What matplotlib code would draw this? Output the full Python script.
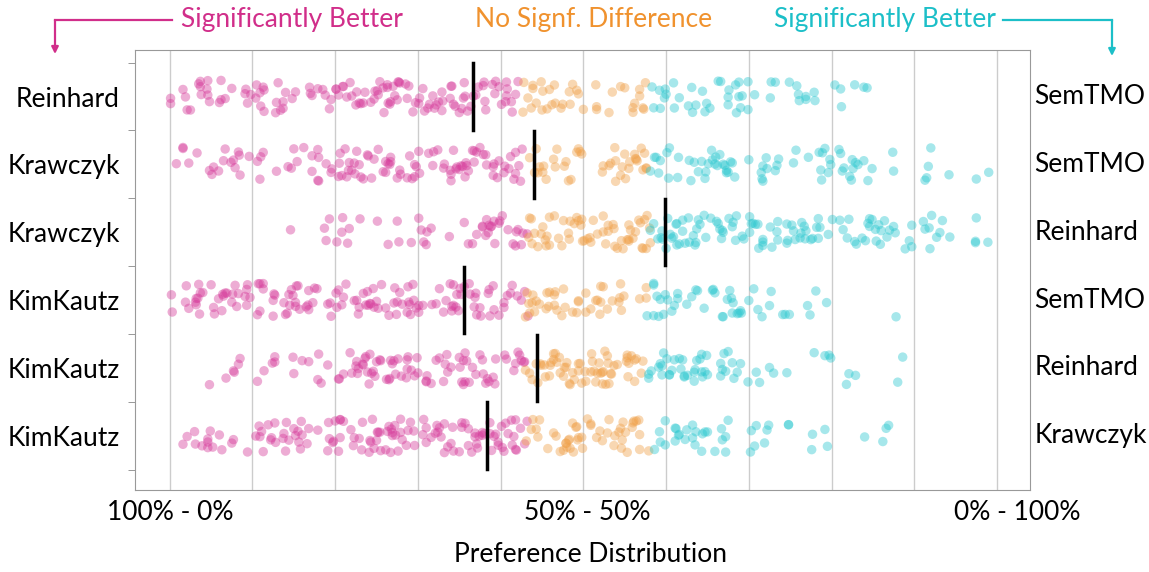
import matplotlib.pyplot as plt
import matplotlib.transforms as mtransforms
from matplotlib.lines import Line2D
import numpy as np
import pandas as pd
import seaborn as sns

left_names = ['Reinhard', 'Krawczyk', 'Krawczyk', 'KimKautz', 'KimKautz', 'KimKautz']
right_names = ['SemTMO', 'SemTMO', 'Reinhard', 'SemTMO', 'Reinhard', 'Krawczyk']
medians = [36.6, 44.0, 59.9, 35.6, 44.4, 38.3]

# preference values (%) per row, split in the three significance groups
r0_left = [0.1, 0.1, 1.6, 1.9, 2.1, 2.5, 3.5, 3.7, 3.7, 3.8, 4.6, 4.6, 4.8, 4.5, 6.0, 6.2, 6.2, 6.7, 7.5, 9.1, 9.2, 9.4, 9.8,
           10.5, 10.4, 11.0, 11.4, 11.3, 10.9, 11.4, 12.8, 12.9, 13.4, 13.7, 14.0, 13.1, 13.7, 14.8, 15.2, 16.9, 17.0, 17.2,
           17.9, 18.5, 18.8, 19.3, 19.5, 20.1, 20.1, 20.4, 20.9, 21.0, 21.4, 21.8, 22.0, 22.6, 23.1, 22.5, 22.9, 23.4, 23.6,
           24.3, 24.8, 24.7, 25.1, 25.2, 25.4, 25.8, 25.9, 26.3, 26.4, 26.7, 26.6, 27.2, 27.5, 27.6, 27.7, 27.0, 26.3, 27.8,
           28.5, 28.7, 28.9, 29.4, 29.7, 30.2, 30.1, 30.6, 30.8, 31.2, 31.4, 31.8, 32.0, 32.2, 32.5, 32.9, 33.0, 32.9, 33.9,
           34.0, 34.1, 34.3, 34.5, 35.0, 35.3, 35.5, 35.6, 35.7, 36.0, 36.4, 36.7, 37.0, 37.3, 37.9, 38.0, 38.2, 38.1, 39.0,
           39.3, 39.4, 39.8, 40.1, 40.6, 40.7, 40.8, 41.3, 41.4, 41.8, 40.7, 42.1]
r0_mid = [42.8, 42.7, 43.3, 43.7, 43.9, 43.9, 44.3, 45.0, 45.1, 44.9, 45.6, 45.9, 46.2, 46.5, 46.6, 47.3, 47.5, 48.3, 48.4,
          48.7, 49.2, 49.4, 50.0, 51.5, 51.6, 51.6, 53.1, 53.5, 54.5, 55.0, 56.0, 56.0, 56.2, 56.8, 56.8, 57.2, 57.3, 57.5]
r0_right = [58.3, 58.5, 59.3, 59.2, 59.9, 60.0, 59.8, 60.9, 61.0, 61.6, 62.7, 63.1, 63.2, 63.6, 64.4, 64.7, 64.9, 65.3, 66.3,
            66.6, 67.5, 67.6, 67.5, 68.4, 68.5, 68.8, 69.0, 68.8, 69.2, 69.9, 69.9, 70.7, 72.7, 73.2, 72.6, 74.9, 75.8, 76.0,
            76.9, 76.9, 76.1, 77.9, 78.0, 80.4, 81.1, 81.2, 82.8, 83.9, 84.3]

r1_left = [0.8, 1.6, 1.6, 2.3, 3.3, 4.8, 5.1, 5.3, 5.9, 6.5, 6.7, 7.4, 7.7, 7.9, 8.3, 8.4, 8.5, 9.6, 10.6, 10.9, 11.0, 11.3,
           12.9, 14.3, 14.7, 15.0, 15.4, 16.2, 17.2, 17.2, 17.9, 18.0, 18.0, 17.9, 18.9, 19.5, 19.6, 20.5, 20.4, 20.6, 20.8,
           21.2, 21.4, 21.6, 21.7, 22.0, 22.3, 22.4, 22.6, 22.9, 23.1, 23.4, 23.9, 24.0, 24.4, 24.7, 25.2, 25.8, 26.1, 26.1,
           26.4, 26.6, 26.7, 26.7, 27.5, 27.8, 27.9, 28.7, 29.0, 29.3, 29.6, 29.6, 29.8, 30.1, 30.2, 31.3, 31.8, 31.9, 32.4,
           33.1, 33.2, 33.9, 34.0, 34.0, 34.3, 34.6, 34.7, 35.0, 35.2, 35.4, 35.7, 35.8, 35.9, 36.1, 36.6, 36.8, 36.8, 37.1,
           37.5, 37.9, 38.2, 38.3, 39.1, 39.1, 39.2, 39.6, 39.8, 40.4, 40.5, 41.0, 41.2, 41.6, 41.8, 41.8, 42.2, 42.4, 42.6]
r1_mid = [43.5, 44.1, 44.3, 44.5, 44.7, 45.1, 45.2, 45.5, 46.4, 46.6, 46.8, 47.7, 47.9, 48.2, 48.5, 49.2, 49.4, 49.6, 49.8,
          52.3, 52.4, 53.1, 53.3, 53.8, 53.9, 53.9, 54.5, 54.7, 55.0, 55.1, 55.6, 55.5, 56.2, 56.3, 56.4, 56.5, 57.0, 57.2,
          57.4, 57.6, 57.6]
r1_right = [58.1, 58.6, 58.8, 59.1, 59.3, 60.1, 60.3, 60.4, 61.4, 61.5, 62.8, 63.0, 63.4, 63.9, 64.3, 64.7, 64.8, 65.1, 65.5,
            65.6, 65.9, 66.0, 66.2, 66.5, 66.9, 67.1, 67.3, 67.3, 67.5, 67.8, 68.0, 68.3, 70.0, 71.5, 71.7, 71.6, 71.7, 72.1,
            72.2, 73.2, 73.4, 73.6, 75.4, 75.7, 77.2, 78.5, 78.7, 78.8, 78.9, 79.2, 79.6, 79.8, 79.9, 80.9, 81.1, 81.3, 81.5,
            82.2, 82.4, 82.5, 82.6, 82.9, 83.2, 83.9, 84.4, 84.9, 87.4, 87.5, 91.3, 91.5, 91.7, 92.0, 94.2, 97.5, 99.0]

r2_left = [14.6, 18.7, 18.9, 19.3, 20.2, 20.8, 20.9, 21.5, 21.7, 23.0, 25.1, 26.4, 27.5, 27.7, 29.2, 30.1, 30.4, 30.7, 31.1,
           31.0, 31.6, 33.8, 35.6, 36.1, 36.6, 37.1, 37.8, 37.8, 38.2, 38.3, 38.5, 38.6, 38.8, 38.9, 39.3, 39.2, 39.8, 39.9,
           40.2, 40.9, 41.5, 41.8, 41.9, 42.1, 42.5, 42.7, 43.2]
r2_mid = [43.4, 43.5, 43.8, 43.7, 44.1, 44.5, 44.9, 45.1, 45.4, 45.5, 45.6, 45.9, 45.9, 46.5, 47.0, 47.4, 47.6, 48.2, 48.3,
          48.4, 48.9, 49.2, 49.4, 49.8, 49.7, 50.1, 50.5, 49.9, 50.8, 50.9, 51.2, 51.7, 52.4, 52.4, 52.7, 53.0, 53.0, 53.6,
          53.7, 53.8, 54.1, 54.6, 54.8, 55.5, 55.5, 55.7, 55.3, 55.5, 56.0, 56.3, 56.7, 57.1, 56.9, 57.2, 57.4, 57.6, 58.0,
          58.1, 57.7]
r2_right = [58.1, 58.5, 59.0, 59.4, 59.5, 59.6, 60.0, 60.2, 60.5, 60.7, 60.9, 61.2, 61.3, 61.3, 61.6, 62.0, 62.0, 62.3, 62.7,
            62.8, 63.3, 63.5, 63.6, 63.7, 63.9, 64.1, 64.6, 64.8, 65.4, 66.1, 66.3, 66.5, 66.7, 66.8, 66.9, 67.6, 68.0, 68.1,
            68.4, 68.5, 69.2, 69.4, 70.1, 70.1, 70.3, 70.5, 70.8, 71.1, 71.2, 71.7, 71.7, 71.7, 72.6, 72.8, 73.4, 73.5, 73.5,
            74.6, 74.6, 74.7, 75.2, 75.4, 75.6, 76.2, 76.3, 76.4, 76.7, 76.8, 76.9, 77.5, 77.7, 78.2, 78.4, 78.4, 78.6, 79.6,
            80.1, 81.0, 81.4, 81.9, 82.1, 82.8, 83.0, 83.7, 84.1, 84.4, 84.6, 84.6, 84.9, 85.3, 85.4, 85.7, 85.9, 86.0, 86.4,
            86.7, 87.0, 87.5, 87.7, 88.9, 89.4, 89.7, 89.7, 91.1, 91.3, 91.8, 91.9, 92.1, 92.7, 93.1, 93.4, 94.3, 97.4, 97.4,
            97.5, 98.9]

r3_left = [0.2, 0.3, 1.9, 2.0, 2.3, 3.1, 3.2, 3.2, 3.4, 3.5, 3.6, 3.7, 4.0, 5.0, 5.3, 5.4, 5.9, 6.3, 6.4, 6.5, 6.7, 6.9, 7.5,
           7.6, 7.9, 8.1, 8.3, 9.1, 9.3, 9.4, 9.3, 9.7, 10.6, 10.7, 10.9, 10.9, 11.3, 11.3, 12.5, 12.7, 12.6, 12.5, 13.8, 14.0,
           14.2, 14.4, 14.5, 14.7, 14.9, 15.2, 15.2, 15.3, 15.5, 15.7, 16.5, 16.7, 16.8, 16.8, 17.3, 17.5, 17.8, 19.1, 19.5,
           19.4, 20.1, 20.2, 20.4, 20.8, 21.0, 21.3, 22.3, 22.6, 22.8, 22.9, 23.4, 23.7, 23.9, 24.0, 24.2, 24.3, 24.6, 24.7,
           25.0, 25.2, 25.6, 26.1, 26.5, 27.1, 27.2, 27.4, 27.5, 27.8, 28.1, 28.7, 28.8, 28.9, 29.0, 29.1, 29.4, 29.5, 29.8,
           30.1, 30.1, 30.6, 31.7, 32.2, 32.6, 33.1, 33.4, 33.9, 34.1, 34.1, 34.3, 34.3, 34.6, 34.7, 34.9, 35.1, 35.2, 35.6,
           36.2, 36.3, 36.8, 36.9, 37.0, 37.1, 37.5, 37.6, 38.5, 38.6, 38.7, 39.1, 39.2, 39.8, 40.4, 40.4, 40.8, 41.2, 41.4,
           42.0, 42.5, 42.9, 43.3]
r3_mid = [43.0, 43.2, 43.4, 43.5, 43.8, 43.9, 44.1, 44.3, 44.7, 45.5, 45.6, 45.8, 45.9, 46.5, 46.6, 46.8, 46.5, 47.4, 47.6,
          47.8, 48.7, 49.2, 49.4, 49.4, 50.3, 50.3, 50.9, 51.5, 51.7, 52.0, 52.1, 52.1, 52.4, 52.9, 53.5, 54.3, 54.4, 54.5,
          54.6, 54.9, 56.8, 57.6, 57.6]
r3_right = [57.7, 58.5, 58.5, 58.5, 58.9, 59.1, 59.3, 59.7, 59.9, 60.2, 60.7, 61.0, 61.4, 61.4, 62.5, 63.1, 63.6, 63.8, 64.6,
            65.6, 65.7, 65.9, 66.8, 66.9, 67.4, 67.7, 67.9, 68.0, 68.1, 68.6, 68.8, 69.0, 69.1, 70.0, 70.6, 71.1, 71.6, 72.5,
            72.7, 74.1, 74.4, 74.9, 77.1, 77.4, 78.1, 79.4, 87.8]

r4_left = [4.8, 6.8, 7.7, 7.8, 8.3, 8.5, 10.6, 11.4, 12.4, 12.7, 12.7, 14.9, 15.0, 16.0, 16.8, 17.9, 18.0, 18.3, 19.1, 20.4,
           20.5, 21.0, 21.8, 22.0, 22.5, 22.6, 22.8, 22.7, 23.3, 23.4, 23.6, 23.7, 23.9, 24.1, 24.2, 24.4, 24.6, 24.8, 25.0,
           25.4, 25.5, 26.2, 26.5, 26.6, 26.7, 26.9, 27.1, 27.3, 27.6, 28.0, 28.6, 28.7, 28.8, 28.7, 29.2, 29.6, 29.9, 30.0,
           31.0, 31.1, 31.0, 31.6, 32.2, 32.6, 33.1, 33.3, 33.5, 33.6, 34.0, 35.0, 35.3, 35.1, 35.5, 35.5, 35.7, 35.7, 35.9,
           36.2, 36.6, 37.0, 37.5, 37.8, 37.9, 38.2, 38.4, 38.6, 39.1, 39.3, 39.4, 40.5, 40.7, 41.6, 41.8, 42.1, 42.3, 42.5,
           42.8, 42.9]
r4_mid = [43.0, 43.5, 43.8, 44.3, 44.5, 44.8, 44.9, 45.3, 45.4, 45.9, 46.0, 46.1, 46.4, 46.4, 46.6, 46.8, 47.1, 47.2, 47.6,
          47.7, 47.9, 48.0, 48.3, 48.4, 48.7, 48.9, 49.4, 49.4, 49.6, 49.8, 50.2, 50.3, 50.9, 51.0, 51.1, 51.3, 51.5, 51.7,
          51.9, 52.1, 52.3, 52.3, 52.4, 52.6, 52.7, 52.9, 53.0, 53.1, 53.3, 53.4, 53.7, 54.1, 55.2, 55.4, 55.5, 55.3, 55.3,
          55.8, 56.2, 56.2, 56.4, 57.0, 57.2]
r4_right = [57.9, 57.9, 58.2, 59.1, 59.3, 59.5, 59.5, 59.7, 60.1, 60.4, 60.4, 60.7, 61.0, 61.6, 61.8, 62.0, 62.2, 62.2, 62.6,
            63.4, 63.4, 63.5, 63.7, 64.1, 64.3, 64.3, 64.4, 64.7, 64.9, 65.0, 66.6, 66.6, 66.8, 67.0, 67.2, 67.5, 68.0, 68.2,
            68.6, 69.0, 69.9, 70.9, 71.3, 72.5, 73.0, 74.6, 77.9, 79.2, 79.7, 79.9, 81.8, 82.1, 82.9, 88.0, 88.6]

r5_left = [1.6, 2.1, 3.0, 3.1, 3.9, 4.6, 4.6, 4.6, 4.9, 5.2, 6.0, 6.3, 7.5, 7.7, 9.4, 10.4, 10.8, 10.9, 11.1, 11.3, 11.9,
           12.2, 12.3, 12.7, 12.8, 13.7, 13.8, 14.0, 14.1, 14.4, 15.0, 15.2, 15.5, 15.6, 15.8, 15.9, 16.0, 16.6, 16.8, 17.9,
           19.1, 19.2, 19.3, 19.7, 19.8, 20.0, 20.4, 20.6, 20.6, 20.6, 21.0, 21.9, 22.2, 22.3, 22.9, 23.2, 23.3, 24.1, 24.2,
           24.3, 24.5, 24.7, 25.1, 25.2, 25.0, 25.4, 25.5, 26.1, 26.3, 26.5, 26.9, 26.7, 26.8, 26.9, 27.2, 27.3, 27.6, 27.9,
           27.9, 28.1, 28.6, 28.8, 29.1, 29.5, 29.6, 30.6, 30.7, 31.0, 31.0, 31.6, 32.1, 32.3, 32.4, 32.6, 32.8, 33.2, 33.2,
           33.6, 34.0, 34.2, 34.3, 35.0, 35.3, 35.3, 35.7, 36.1, 36.1, 36.5, 36.9, 36.9, 37.1, 37.2, 37.4, 37.8, 37.8, 38.0,
           38.7, 38.7, 38.9, 39.2, 39.7, 39.4, 39.7, 40.1, 40.2, 40.4, 40.6, 40.9, 41.3, 41.4, 41.6, 41.8, 41.8, 41.9, 42.4,
           42.9, 43.2]
r5_mid = [43.1, 43.7, 43.9, 44.3, 44.5, 44.7, 45.7, 46.4, 46.7, 47.2, 47.6, 47.9, 47.9, 48.0, 48.2, 48.3, 48.4, 48.7, 48.8,
          49.1, 49.2, 49.3, 49.4, 49.8, 49.9, 50.5, 50.9, 50.9, 51.6, 52.0, 52.3, 52.9, 53.1, 53.7, 53.8, 54.3, 54.5, 54.6,
          54.7, 54.8, 55.1, 55.3, 55.9, 56.0, 56.1, 56.4, 56.7, 56.8, 56.8, 57.9]
r5_right = [58.6, 59.2, 59.3, 59.9, 59.9, 61.1, 61.1, 61.2, 61.5, 61.6, 62.3, 62.5, 63.2, 63.2, 63.5, 63.6, 64.3, 64.4, 64.7,
            65.0, 65.9, 66.7, 66.8, 67.2, 67.2, 67.5, 70.2, 70.3, 70.7, 70.9, 71.9, 72.2, 72.4, 74.8, 74.8, 77.6, 77.7, 79.2,
            79.5, 84.0, 86.2, 86.6, 86.9]

rows = [(r0_left, r0_mid, r0_right), (r1_left, r1_mid, r1_right), (r2_left, r2_mid, r2_right),
        (r3_left, r3_mid, r3_right), (r4_left, r4_mid, r4_right), (r5_left, r5_mid, r5_right)]

recs = []
for i, groups in enumerate(rows):
    for g, vals in zip(['left', 'mid', 'right'], groups):
        for v in vals:
            recs.append({'pref': v, 'pair': 'p%d' % i, 'group': g})
df = pd.DataFrame(recs)

magenta = '#d12e8a'
orange = '#f0922e'
cyan = '#1cbfc8'
pal = {'left': '#d63a9a', 'mid': '#f0a048', 'right': '#2cc8d0'}

plt.rcParams['font.family'] = ['Lato', 'DejaVu Sans']

fig = plt.figure(figsize=(11.49, 5.72), dpi=100)
ax = fig.add_axes([0.1175, 0.1434, 0.779, 0.769])

for v in np.arange(0, 101, 10):
    ax.axvline(v, color='#cccccc', lw=1, zorder=0)

np.random.seed(3)
sns.stripplot(data=df, x='pref', y='pair', hue='group', hue_order=['left', 'mid', 'right'],
              order=['p%d' % i for i in range(6)], palette=pal, jitter=0.25, size=6.8,
              alpha=0.42, linewidth=0, legend=False, ax=ax, zorder=2)

for i, m in enumerate(medians):
    ax.plot([m, m], [i - 0.49, i + 0.49], color='black', lw=2.5, zorder=5)

ax.set_xlim(-4.2, 104)
ax.set_ylim(5.8, -0.685)

ax.set_xticks([0, 50.5, 102.5])
ax.set_xticklabels(['100% - 0%', '50% - 50%', '0% - 100%'], fontsize=19)
ax.tick_params(axis='x', length=0, pad=7)
ax.set_xlabel('')

ax.set_yticks(range(6))
ax.set_yticklabels(left_names, fontsize=19)
ax.tick_params(axis='y', which='major', length=0, pad=11)
ax.set_yticks(np.arange(-0.5, 6, 1), minor=True)
ax.tick_params(axis='y', which='minor', length=5, color='#888888')
ax.set_ylabel('')

trans = mtransforms.blended_transform_factory(ax.transAxes, ax.transData)
for i, name in enumerate(right_names):
    ax.text(1.005, i, name, transform=trans, ha='left', va='center', fontsize=19)

for s in ax.spines.values():
    s.set_color('#999999')
    s.set_linewidth(0.8)

fig.text(590 / 1149, 1 - 555 / 572, 'Preference Distribution', ha='center', va='center', fontsize=19)

# header with the arrows
ty = 1 - 20 / 572
fig.text(292 / 1149, ty, 'Significantly Better', color=magenta, ha='center', va='center', fontsize=19)
fig.text(594 / 1149, ty, 'No Signf. Difference', color=orange, ha='center', va='center', fontsize=19)
fig.text(885 / 1149, ty, 'Significantly Better', color=cyan, ha='center', va='center', fontsize=19)

fig.add_artist(Line2D([172 / 1149, 55 / 1149], [ty, ty], color=magenta, lw=1.6, transform=fig.transFigure))
ax.annotate('', xy=(55 / 1149, 1 - 54 / 572), xytext=(55 / 1149, ty), xycoords='figure fraction',
            textcoords='figure fraction',
            arrowprops=dict(arrowstyle='-|>', color=magenta, lw=1.6, shrinkA=0, shrinkB=0, mutation_scale=10))
fig.add_artist(Line2D([1003 / 1149, 1112 / 1149], [ty, ty], color=cyan, lw=1.6, transform=fig.transFigure))
ax.annotate('', xy=(1112 / 1149, 1 - 56 / 572), xytext=(1112 / 1149, ty), xycoords='figure fraction',
            textcoords='figure fraction',
            arrowprops=dict(arrowstyle='-|>', color=cyan, lw=1.6, shrinkA=0, shrinkB=0, mutation_scale=10))

fig.savefig('out.png', dpi=100)
